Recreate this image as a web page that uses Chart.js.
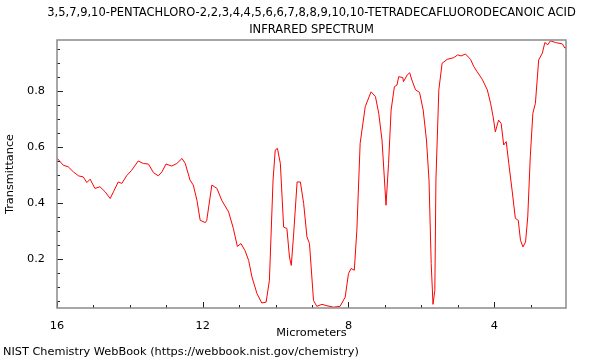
<!DOCTYPE html>
<html>
<head>
<meta charset="utf-8">
<script src="https://cdn.jsdelivr.net/npm/chart.js@4"></script>
<style>
  html, body { margin: 0; padding: 0; background: #fff; }
  #wrap { width: 600px; height: 360px; }
</style>
</head>
<body>
<div id="wrap"><canvas id="spectrum" width="600" height="360"></canvas></div>
<script>
// --- chart text ---
const titleLines = [
    '3,5,7,9,10-PENTACHLORO-2,2,3,4,4,5,6,6,7,8,8,9,10,10-TETRADECAFLUORODECANOIC ACID',
    'INFRARED SPECTRUM'
];
const footerText = 'NIST Chemistry WebBook (https://webbook.nist.gov/chemistry)';
const xTitle = 'Micrometers';
const yTitle = 'Transmittance';

// --- ticks ---
const xMajorTicks = [16, 12, 8, 4];
const yMajorTicks = [0.2, 0.4, 0.6, 0.8];

// --- spectrum ---
const wavelength = [
    15.99, 15.83, 15.69, 15.55, 15.41, 15.28, 15.18, 15.09, 14.96, 14.82,
    14.68, 14.54, 14.45, 14.32, 14.22, 14.09, 13.95, 13.77, 13.63, 13.49,
    13.35, 13.22, 13.12, 13.01, 12.85, 12.71, 12.57, 12.48, 12.35, 12.26,
    12.16, 12.07, 11.93, 11.89, 11.75, 11.61, 11.48, 11.29, 11.16, 11.05,
    10.95, 10.84, 10.74, 10.65, 10.51, 10.38, 10.26, 10.17, 10.07, 10.01,
    9.95, 9.87, 9.78, 9.69, 9.62, 9.57, 9.51, 9.41, 9.32, 9.23,
    9.14, 9.07, 8.96, 8.87, 8.73, 8.59, 8.41, 8.23, 8.09, 8.00,
    7.93, 7.84, 7.77, 7.68, 7.54, 7.38, 7.26, 7.17, 7.08, 6.97,
    6.90, 6.83, 6.74, 6.67, 6.62, 6.51, 6.49, 6.39, 6.32, 6.26,
    6.16, 6.05, 5.95, 5.86, 5.79, 5.73, 5.68, 5.63, 5.60, 5.52,
    5.43, 5.29, 5.11, 5.00, 4.91, 4.79, 4.65, 4.56, 4.47, 4.33,
    4.19, 4.10, 4.03, 3.97, 3.88, 3.81, 3.74, 3.67, 3.60, 3.51,
    3.42, 3.34, 3.28, 3.21, 3.14, 3.08, 3.01, 2.94, 2.87, 2.78,
    2.68, 2.61, 2.53, 2.46, 2.32, 2.13, 2.06, 2.00
];
const transmittance = [
    0.559, 0.535, 0.529, 0.511, 0.497, 0.493, 0.473, 0.485, 0.452, 0.458,
    0.440, 0.416, 0.440, 0.475, 0.470, 0.497, 0.517, 0.550, 0.541, 0.539,
    0.508, 0.497, 0.511, 0.539, 0.532, 0.541, 0.559, 0.541, 0.482, 0.464,
    0.410, 0.338, 0.330, 0.338, 0.464, 0.452, 0.410, 0.368, 0.309, 0.245,
    0.255, 0.230, 0.195, 0.136, 0.076, 0.043, 0.046, 0.124, 0.482, 0.589,
    0.595, 0.541, 0.314, 0.309, 0.207, 0.177, 0.279, 0.475, 0.475, 0.398,
    0.279, 0.255, 0.052, 0.031, 0.038, 0.033, 0.028, 0.031, 0.064, 0.148,
    0.166, 0.160, 0.303, 0.613, 0.744, 0.797, 0.780, 0.720, 0.625, 0.392,
    0.541, 0.732, 0.815, 0.821, 0.851, 0.848, 0.833, 0.857, 0.865, 0.839,
    0.804, 0.795, 0.732, 0.625, 0.482, 0.184, 0.038, 0.088, 0.482, 0.804,
    0.899, 0.913, 0.919, 0.929, 0.925, 0.932, 0.913, 0.887, 0.869, 0.842,
    0.804, 0.756, 0.708, 0.654, 0.696, 0.684, 0.607, 0.619, 0.541, 0.446,
    0.345, 0.338, 0.267, 0.243, 0.261, 0.350, 0.565, 0.720, 0.756, 0.911,
    0.935, 0.973, 0.965, 0.979, 0.973, 0.968, 0.953, 0.959
];

const fontFamily = "'DejaVu Sans', sans-serif";
const fontSize = 11.3;
const titleSize = 11.5;
const footerSize = 11.3;
const lineColor = 'rgb(255,0,0)';
const frameColor = '#8a8a8a';

const near = (a, b) => Math.abs(a - b) < 1e-6;
const isMajor = (list, v) => list.some(m => near(m, v));

// ticks drawn inside the box, frame, title and footer
const framePlugin = {
    id: 'nistFrame',
    afterDraw(chart) {
        const { ctx, chartArea: a, scales: { x, y } } = chart;
        ctx.save();
        ctx.strokeStyle = '#222';
        ctx.lineWidth = 1;
        ctx.beginPath();
        x.ticks.forEach(t => {
            const px = Math.round(x.getPixelForValue(t.value)) + 0.5;
            const len = isMajor(xMajorTicks, t.value) ? 6 : 3;
            ctx.moveTo(px, a.bottom);
            ctx.lineTo(px, a.bottom - len);
        });
        y.ticks.forEach(t => {
            const py = Math.round(y.getPixelForValue(t.value)) + 0.5;
            const len = isMajor(yMajorTicks, t.value) ? 6 : 3;
            ctx.moveTo(a.left, py);
            ctx.lineTo(a.left + len, py);
        });
        ctx.stroke();

        ctx.strokeStyle = frameColor;
        ctx.lineWidth = 1.5;
        ctx.strokeRect(a.left, a.top, a.right - a.left, a.bottom - a.top);

        ctx.fillStyle = '#000';
        ctx.font = `${titleSize}px ${fontFamily}`;
        ctx.textAlign = 'center';
        ctx.textBaseline = 'middle';
        titleLines.forEach((s, i) => ctx.fillText(s, (a.left + a.right) / 2, 13 + i * 17));
        ctx.font = `${footerSize}px ${fontFamily}`;
        ctx.textAlign = 'left';
        ctx.fillText(footerText, 3, 352);
        ctx.restore();
    }
};

new Chart(document.getElementById('spectrum'), {
    type: 'line',
    data: {
        datasets: [{
            data: wavelength.map((w, i) => ({ x: w, y: transmittance[i] })),
            borderColor: lineColor,
            borderWidth: 1,
            pointRadius: 0,
            tension: 0,
            fill: false,
        }]
    },
    options: {
        responsive: false,
        animation: false,
        devicePixelRatio: 1,
        layout: { padding: { top: 40, right: 34, bottom: 18, left: 0 } },
        plugins: {
            legend: { display: false },
            tooltip: { enabled: false },
        },
        scales: {
            x: {
                type: 'linear',
                reverse: true,
                min: 2.03,
                max: 16,
                grid: { display: false },
                border: { display: false },
                afterBuildTicks: s => {
                    const ticks = [];
                    for (let v = 3; v <= 16; v++) ticks.push({ value: v });
                    s.ticks = ticks;
                },
                afterFit: s => { s.height = 34; },
                ticks: {
                    autoSkip: false,
                    maxRotation: 0,
                    padding: 3,
                    color: '#000',
                    font: { family: fontFamily, size: fontSize },
                    callback: v => isMajor(xMajorTicks, v) ? String(v) : '',
                },
                title: {
                    display: true,
                    text: xTitle,
                    color: '#000',
                    font: { family: fontFamily, size: fontSize },
                    padding: { top: 0, bottom: 2 },
                },
            },
            y: {
                type: 'linear',
                min: 0.025,
                max: 0.982,
                grid: { display: false },
                border: { display: false },
                afterBuildTicks: s => {
                    const ticks = [];
                    for (let k = 1; k <= 19; k++) ticks.push({ value: Math.round(k * 5) / 100 });
                    s.ticks = ticks;
                },
                afterFit: s => { s.width = 57; },
                ticks: {
                    autoSkip: false,
                    padding: 4,
                    color: '#000',
                    font: { family: fontFamily, size: fontSize },
                    callback: v => isMajor(yMajorTicks, v) ? v.toFixed(1) : '',
                },
                title: {
                    display: true,
                    text: yTitle,
                    color: '#000',
                    font: { family: fontFamily, size: fontSize },
                    padding: { top: 3, bottom: 0 },
                },
            }
        }
    },
    plugins: [framePlugin]
});
</script>
</body>
</html>
